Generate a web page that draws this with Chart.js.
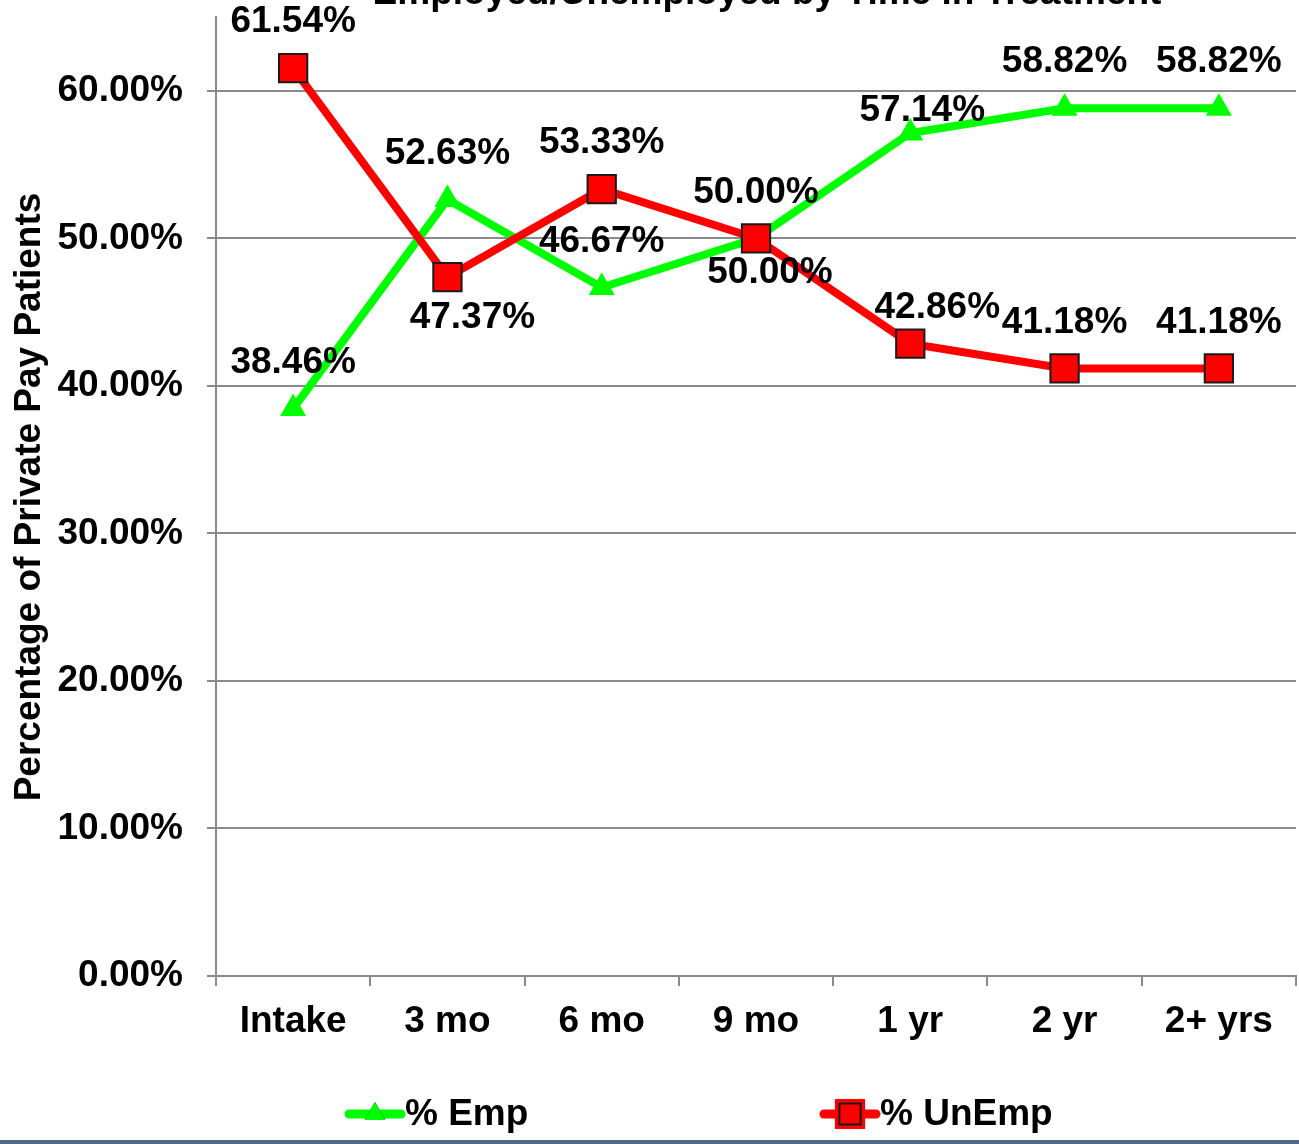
<!DOCTYPE html>
<html>
<head>
<meta charset="utf-8">
<script src="https://cdn.jsdelivr.net/npm/chart.js@4/dist/chart.umd.min.js"></script>
<style>
  html, body { margin: 0; padding: 0; background: #fff; }
  #wrap { width: 1299px; height: 1140px; border-bottom: 4px solid #4d6a8c; position: relative; }
</style>
</head>
<body>
<div id="wrap"><canvas id="chart" width="1299" height="1140"></canvas></div>
<script>
// chart data
const categories = ["Intake", "3 mo", "6 mo", "9 mo", "1 yr", "2 yr", "2+ yrs"];
const empValues = [38.46, 52.63, 46.67, 50.00, 57.14, 58.82, 58.82];
const unempValues = [61.54, 47.37, 53.33, 50.00, 42.86, 41.18, 41.18];
const yTicks = [0, 10, 20, 30, 40, 50, 60];

const FONT = "'Liberation Sans', Arial, sans-serif";
const FSIZE = 37;
const GRID = "#8a8a8a";

// where each data label sits relative to its point
const labelShift = {
  0: { 4: [12, -22] },
  1: { 1: [25, 41], 3: [14, 34], 4: [27, -36] }
};

const labelPlugin = {
  id: "pointLabels",
  afterDatasetsDraw(chart) {
    const ctx = chart.ctx;
    ctx.save();
    ctx.font = "bold " + FSIZE + "px " + FONT;
    ctx.fillStyle = "#000";
    ctx.textAlign = "center";
    ctx.textBaseline = "middle";
    chart.data.datasets.forEach((ds, di) => {
      chart.getDatasetMeta(di).data.forEach((pt, i) => {
        const s = (labelShift[di] && labelShift[di][i]) || [0, -46];
        ctx.fillText(ds.data[i].toFixed(2) + "%", pt.x + s[0], pt.y + s[1]);
      });
    });
    ctx.restore();
  }
};

const extrasPlugin = {
  id: "extras",
  afterDraw(chart) {
    const ctx = chart.ctx;
    ctx.save();
    // title, mostly cut off at the top of the picture
    ctx.font = "bold " + FSIZE + "px " + FONT;
    ctx.fillStyle = "#000";
    ctx.textAlign = "center";
    ctx.textBaseline = "alphabetic";
    ctx.fillText("Employed/Unemployed by Time in Treatment", 767, 4);

    // y axis title
    ctx.save();
    ctx.translate(30, 497);
    ctx.rotate(-Math.PI / 2);
    ctx.textBaseline = "middle";
    ctx.fillText("Percentage of Private Pay Patients", 0, 0);
    ctx.restore();

    // legend
    const items = [
      { x: 345, ds: chart.data.datasets[0] },
      { x: 820, ds: chart.data.datasets[1] }
    ];
    const ly = 1114;
    items.forEach(it => {
      ctx.strokeStyle = it.ds.borderColor;
      ctx.lineWidth = 9;
      ctx.lineCap = "round";
      ctx.beginPath();
      ctx.moveTo(it.x + 4, ly);
      ctx.lineTo(it.x + 56, ly);
      ctx.stroke();
      Chart.helpers.drawPoint(ctx, {
        pointStyle: it.ds.pointStyle,
        radius: it.ds.pointStyle === "triangle" ? 12 : 15,
        borderWidth: it.ds.pointBorderWidth
      }, it.x + 30, ly);
      ctx.fillStyle = it.ds.pointBackgroundColor;
      ctx.strokeStyle = it.ds.pointBorderColor;
      ctx.lineWidth = it.ds.pointBorderWidth;
      ctx.fill();
      if (it.ds.pointBorderWidth) ctx.stroke();
      ctx.fillStyle = "#000";
      ctx.font = "bold " + FSIZE + "px " + FONT;
      ctx.textAlign = "left";
      ctx.textBaseline = "middle";
      ctx.fillText(it.ds.label, it.x + 60, ly + 1);
    });
    ctx.restore();
  }
};

new Chart(document.getElementById("chart"), {
  type: "line",
  data: {
    labels: categories,
    datasets: [
      {
        label: "% Emp",
        data: empValues,
        borderColor: "#00ff00",
        backgroundColor: "#00ff00",
        borderWidth: 8,
        pointStyle: "triangle",
        pointRadius: 15,
        pointHoverRadius: 15,
        pointBackgroundColor: "#00ff00",
        pointBorderColor: "#00ff00",
        pointBorderWidth: 0,
        order: 2,
        tension: 0
      },
      {
        label: "% UnEmp",
        data: unempValues,
        borderColor: "#ff0000",
        backgroundColor: "#ff0000",
        borderWidth: 8,
        pointStyle: "rect",
        pointRadius: 20,
        pointHoverRadius: 20,
        pointBackgroundColor: "#ff0000",
        pointBorderColor: "#1a1a1a",
        pointBorderWidth: 2,
        order: 1,
        tension: 0
      }
    ]
  },
  options: {
    responsive: false,
    animation: false,
    events: [],
    layout: { autoPadding: false, padding: { top: 17, right: 3, left: 0, bottom: 0 } },
    plugins: {
      legend: { display: false },
      tooltip: { enabled: false }
    },
    scales: {
      x: {
        offset: true,
        grid: {
          offset: true,
          drawOnChartArea: false,
          color: GRID,
          lineWidth: 2,
          tickLength: 10
        },
        border: { color: GRID, width: 2 },
        ticks: {
          color: "#000",
          font: { family: FONT, size: FSIZE, weight: "bold" },
          padding: 14,
          maxRotation: 0
        },
        afterFit(scale) {
          scale.height = 164;
          scale.paddingLeft = 0;
          scale.paddingRight = 0;
        }
      },
      y: {
        min: 0,
        max: 65,
        afterBuildTicks(axis) {
          axis.ticks = yTicks.map(v => ({ value: v }));
        },
        grid: {
          color: GRID,
          lineWidth: 2,
          tickLength: 9
        },
        border: { color: GRID, width: 2 },
        ticks: {
          color: "#000",
          font: { family: FONT, size: FSIZE, weight: "bold" },
          padding: 24,
          callback: v => v.toFixed(2) + "%"
        },
        afterFit(scale) {
          scale.width = 216;
          scale.paddingTop = 0;
          scale.paddingBottom = 0;
        }
      }
    }
  },
  plugins: [labelPlugin, extrasPlugin]
});
</script>
</body>
</html>
